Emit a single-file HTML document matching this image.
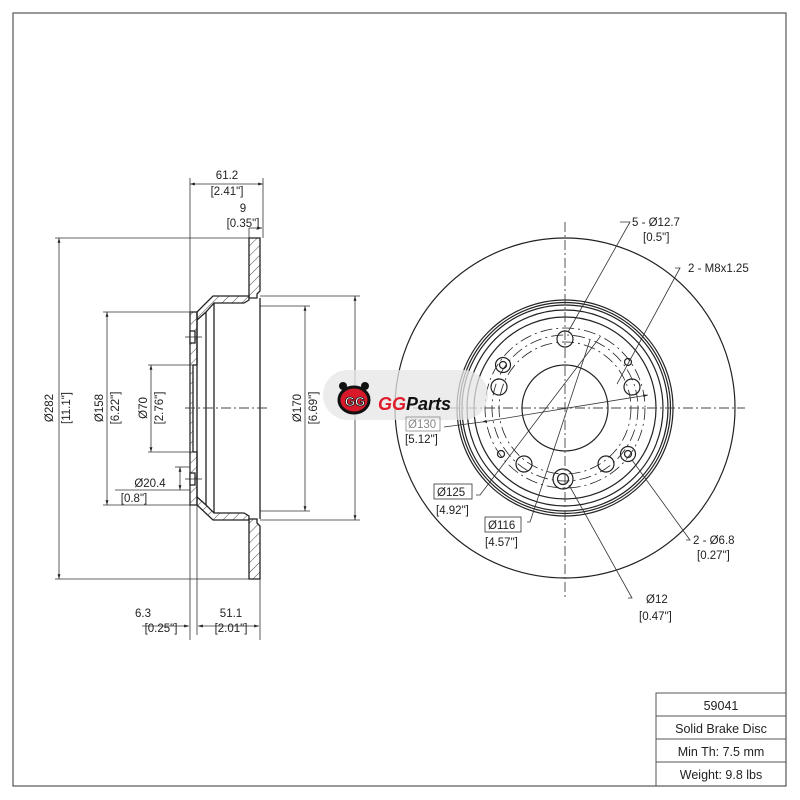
<!DOCTYPE html>
<html><head><meta charset="utf-8"><style>
html,body{margin:0;padding:0;background:#fff;}
svg{display:block;font-family:"Liberation Sans",sans-serif;}
</style></head><body>
<svg width="800" height="800" viewBox="0 0 800 800" xmlns="http://www.w3.org/2000/svg">
<defs>
<pattern id="h" width="7" height="7" patternUnits="userSpaceOnUse" patternTransform="rotate(45)"><line x1="0" y1="0" x2="0" y2="7" stroke="#333" stroke-width="0.9"/></pattern>
<marker id="a" viewBox="0 0 10 10" refX="10" refY="5" markerWidth="6" markerHeight="6" orient="auto-start-reverse"><path d="M0,2 L10,5 L0,8z" fill="#222"/></marker>
</defs>
<rect x="13" y="13" width="773" height="773" fill="none" stroke="#555" stroke-width="1.2"/>
<g stroke="#555" fill="none" stroke-width="1">
<rect x="656" y="693" width="130" height="93"/>
<line x1="656" y1="716" x2="786" y2="716"/><line x1="656" y1="739" x2="786" y2="739"/><line x1="656" y1="762" x2="786" y2="762"/>
</g>
<g font-size="12.5" fill="#222" text-anchor="middle">
<text x="721" y="710">59041</text>
<text x="721" y="733">Solid Brake Disc</text>
<text x="721" y="756">Min Th: 7.5 mm</text>
<text x="721" y="779">Weight: 9.8 lbs</text>
</g>

<!-- LEFT SECTION VIEW -->
<g stroke="#222" stroke-width="1.3" fill="none">
<path d="M249,238 H260 V291 L257,294 V298 H249 Z" fill="url(#h)"/>
<path d="M249,579 H260 V526 L257,523 V519 H249 Z" fill="url(#h)"/>
<path d="M213,296 H249 V300 L244,303 H214 L206,312 L197,320 V312 Z" fill="url(#h)"/>
<path d="M213,520 H249 V516 L244,513 H214 L206,505 L197,497 V505 Z" fill="url(#h)"/>
<path d="M190,312 H197 V365 H193 V452 H197 V505 H190 Z" fill="url(#h)"/>
<rect x="190" y="331" width="5" height="12" fill="#fff"/>
<rect x="190" y="473" width="5" height="12" fill="#fff"/>
<line x1="197" y1="320" x2="197" y2="497"/>
<line x1="214" y1="303" x2="214" y2="513"/>
<line x1="260" y1="298" x2="260" y2="519"/>
<line x1="206" y1="312" x2="206" y2="505"/>
<line x1="185" y1="337" x2="202" y2="337" stroke-width="0.8"/>
<line x1="185" y1="479" x2="202" y2="479" stroke-width="0.8"/>
</g>
<line x1="185" y1="408" x2="270" y2="408" stroke="#444" stroke-width="0.9" stroke-dasharray="10,3,2,3"/>
<g stroke="#333" stroke-width="0.8" fill="none">
<line x1="190" y1="178" x2="190" y2="640"/>
<line x1="263" y1="178" x2="263" y2="238"/>
<line x1="190" y1="184" x2="263" y2="184" marker-start="url(#a)" marker-end="url(#a)"/>
<line x1="249" y1="228" x2="262" y2="228" marker-end="url(#a)"/>
<line x1="249" y1="228" x2="249" y2="238"/>
<line x1="55" y1="238" x2="249" y2="238"/>
<line x1="55" y1="579" x2="249" y2="579"/>
<line x1="59" y1="238" x2="59" y2="579" marker-start="url(#a)" marker-end="url(#a)"/>
<line x1="103" y1="312" x2="190" y2="312"/>
<line x1="103" y1="505" x2="190" y2="505"/>
<line x1="107" y1="312" x2="107" y2="505" marker-start="url(#a)" marker-end="url(#a)"/>
<line x1="148" y1="365" x2="193" y2="365"/>
<line x1="148" y1="452" x2="193" y2="452"/>
<line x1="151" y1="365" x2="151" y2="452" marker-start="url(#a)" marker-end="url(#a)"/>
<line x1="175" y1="467" x2="190" y2="467"/>
<line x1="180" y1="467" x2="180" y2="490" marker-start="url(#a)" marker-end="url(#a)"/>
<line x1="115" y1="490" x2="190" y2="490"/>
<line x1="260" y1="296" x2="360" y2="296"/>
<line x1="260" y1="520" x2="360" y2="520"/>
<line x1="355" y1="296" x2="355" y2="520" marker-start="url(#a)" marker-end="url(#a)"/>
<line x1="260" y1="306" x2="310" y2="306"/>
<line x1="260" y1="511" x2="310" y2="511"/>
<line x1="305" y1="306" x2="305" y2="511" marker-start="url(#a)" marker-end="url(#a)"/>
<line x1="197" y1="505" x2="197" y2="635"/>
<line x1="260" y1="579" x2="260" y2="640"/>
<line x1="142" y1="626" x2="189" y2="626" marker-end="url(#a)"/>
<line x1="198" y1="626" x2="259" y2="626" marker-start="url(#a)" marker-end="url(#a)"/>
</g>
<g font-size="11.5" fill="#222" text-anchor="middle">
<text x="227" y="179">61.2</text><text x="227" y="195">[2.41"]</text>
<text x="243" y="212">9</text><text x="243" y="227">[0.35"]</text>
<text x="143" y="617">6.3</text><text x="161" y="632">[0.25"]</text>
<text x="231" y="617">51.1</text><text x="231" y="632">[2.01"]</text>
<text x="150" y="487">Ø20.4</text><text x="134" y="502">[0.8"]</text>
<text transform="translate(53,408) rotate(-90)">Ø282</text>
<text transform="translate(70,408) rotate(-90)">[11.1"]</text>
<text transform="translate(103,408) rotate(-90)">Ø158</text>
<text transform="translate(119,408) rotate(-90)">[6.22"]</text>
<text transform="translate(147,408) rotate(-90)">Ø70</text>
<text transform="translate(163,408) rotate(-90)">[2.76"]</text>
<text transform="translate(301,408) rotate(-90)">Ø170</text>
<text transform="translate(317,408) rotate(-90)">[6.69"]</text>
</g>

<!-- RIGHT FACE VIEW -->
<g stroke="#222" stroke-width="1.2" fill="none">
<circle cx="565" cy="408" r="170"/>
<circle cx="565" cy="408" r="108"/>
<circle cx="565" cy="408" r="105.5"/>
<circle cx="565" cy="408" r="103"/>
<circle cx="565" cy="408" r="98"/>
<circle cx="565" cy="408" r="91"/>
<circle cx="565" cy="408" r="43"/>
<circle cx="565" cy="408" r="80" stroke-dasharray="12,4,2,4" stroke-width="0.8"/>
<circle cx="565" cy="408" r="73" stroke-dasharray="12,4,2,4" stroke-width="0.8"/>
<circle cx="565" cy="408" r="66" stroke-dasharray="12,4,2,4" stroke-width="0.8"/>
<circle cx="565" cy="339" r="8"/>
<circle cx="632" cy="387" r="8"/>
<circle cx="606" cy="464" r="8"/>
<circle cx="524" cy="464" r="8"/>
<circle cx="499" cy="387" r="8"/>
<circle cx="563" cy="479" r="10"/><circle cx="563" cy="479" r="5.5"/>
<circle cx="503" cy="365" r="7.5"/><circle cx="503" cy="365" r="3.5"/>
<circle cx="628" cy="454" r="7.5"/><circle cx="628" cy="454" r="3.5"/>
<circle cx="628" cy="362" r="3.5"/>
<circle cx="501" cy="454" r="3.5"/>
</g>
<g stroke="#444" stroke-width="0.9" stroke-dasharray="10,3,2,3">
<line x1="565" y1="222" x2="565" y2="598"/>
<line x1="395" y1="408" x2="745" y2="408"/>
</g>
<g stroke="#333" stroke-width="0.8" fill="none">
<polyline points="620,222 630,222 568,332"/>
<polyline points="675,268 680,268 617,384"/>
<line x1="482" y1="422" x2="648" y2="395" marker-start="url(#a)" marker-end="url(#a)"/>
<line x1="444" y1="427" x2="482" y2="422"/>
<polyline points="476,495 480,495 600,337"/>
<polyline points="527,522 530,522 590,340"/>
<polyline points="686,540 690,540 632,460"/>
<polyline points="628,598 632,598 569,485"/>
</g>
<rect x="323" y="370" width="165" height="50" rx="25" fill="#e6e6e6" fill-opacity="0.75"/>
<g>
<circle cx="343" cy="386" r="4" fill="#111"/><circle cx="365" cy="386" r="4" fill="#111"/>
<ellipse cx="354" cy="400" rx="15" ry="13" fill="#d8192a" stroke="#111" stroke-width="3"/>
<text x="355" y="406" font-size="13" font-weight="bold" fill="#fff" text-anchor="middle" stroke="#111" stroke-width="0.8">GG</text>
</g>
<text x="378" y="410" font-size="18" font-weight="bold" font-style="italic" fill="#e01b2a">GG<tspan fill="#111">Parts</tspan></text>
<g fill="none" stroke="#888" stroke-width="0.8"><rect x="406" y="417" width="34" height="14"/></g>
<rect x="434" y="484" width="38" height="15" fill="none" stroke="#333" stroke-width="0.8"/>
<rect x="485" y="517" width="36" height="15" fill="none" stroke="#333" stroke-width="0.8"/>
<g font-size="11.5" fill="#222">
<text x="632" y="226">5 - Ø12.7</text><text x="643" y="241">[0.5"]</text>
<text x="688" y="272">2 - M8x1.25</text>
<text x="408" y="428" fill="#888">Ø130</text><text x="405" y="443">[5.12"]</text>
<text x="437" y="496">Ø125</text><text x="436" y="514">[4.92"]</text>
<text x="488" y="529">Ø116</text><text x="485" y="546">[4.57"]</text>
<text x="693" y="544">2 - Ø6.8</text><text x="697" y="559">[0.27"]</text>
<text x="646" y="603">Ø12</text><text x="639" y="620">[0.47"]</text>
</g>
</svg>
</body></html>
